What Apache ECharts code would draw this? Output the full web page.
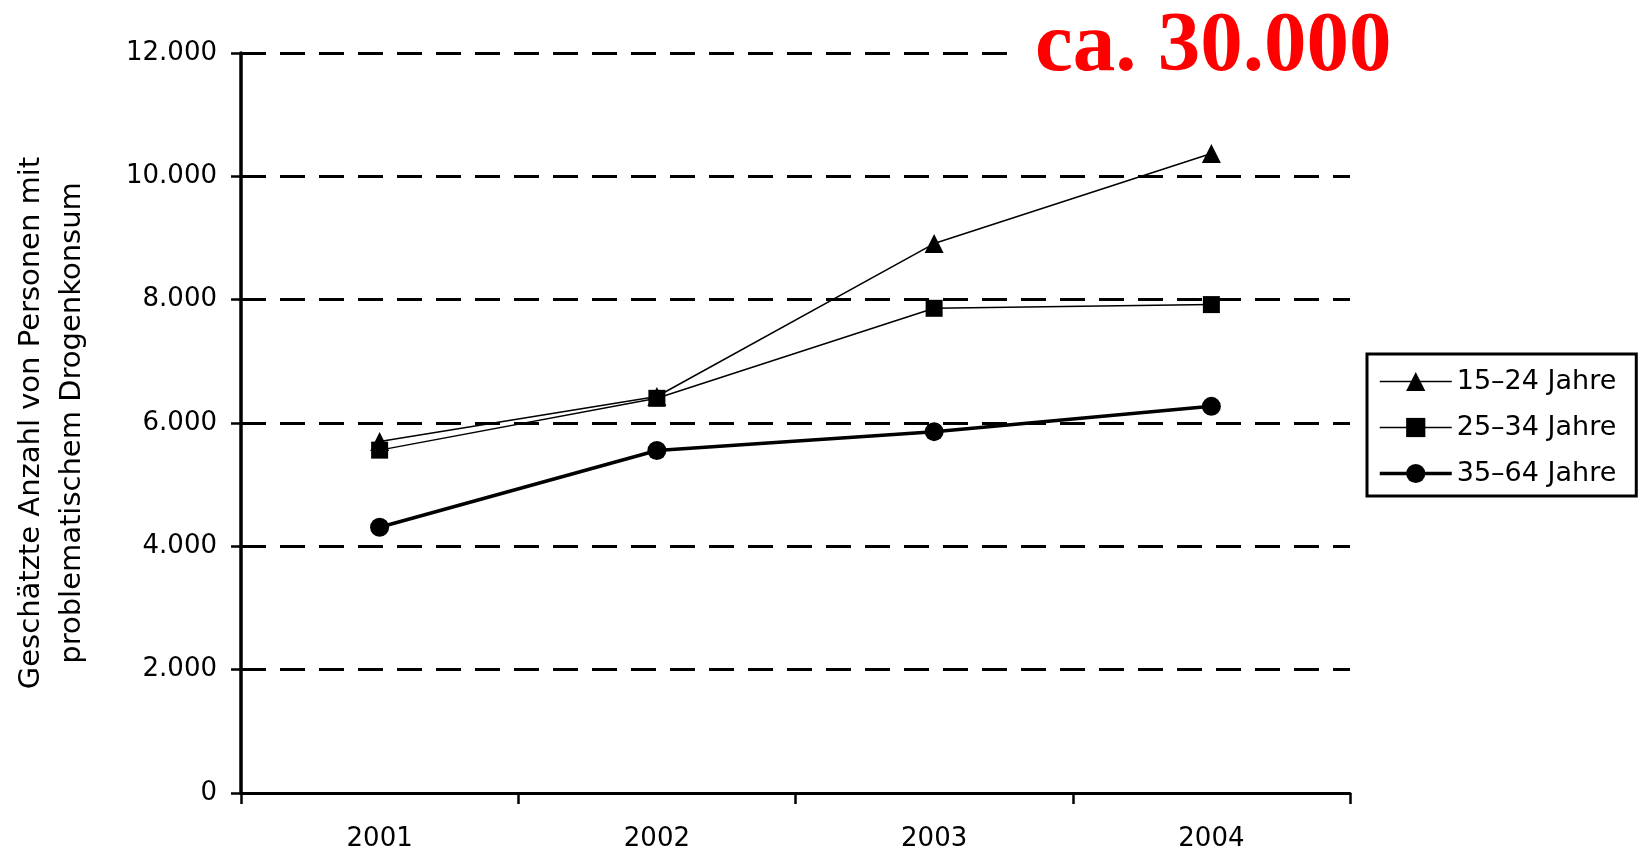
<!DOCTYPE html>
<html>
<head>
<meta charset="utf-8">
<script src="https://cdn.jsdelivr.net/npm/echarts@6/dist/echarts.min.js"></script>
<style>
html,body{margin:0;padding:0;background:#fff;}
#chart{width:1644px;height:852px;}
</style>
</head>
<body>
<div id="chart"></div>
<script>
// ---- data ----
var years = ['2001', '2002', '2003', '2004'];
var seriesNames = ['15–24 Jahre', '25–34 Jahre', '35–64 Jahre'];
var age15to24 = [5700, 6430, 8910, 10370];
var age25to34 = [5560, 6400, 7860, 7920];
var age35to64 = [4310, 5555, 5860, 6270];
var yTicks = [0, 2000, 4000, 6000, 8000, 10000, 12000];
var yTitle = 'Geschätzte Anzahl von Personen mit\nproblematischem Drogenkonsum';
var annotation = 'ca. 30.000';

function fmt(v) {
  if (v < 1000) return String(v);
  var t = Math.floor(v / 1000), r = String(v % 1000);
  while (r.length < 3) r = '0' + r;
  return t + '.' + r;
}

var chart = echarts.init(document.getElementById('chart'), null, {renderer: 'canvas'});
var baseFont = 'DejaVu Sans';
chart.setOption({
  animation: false,
  backgroundColor: '#ffffff',
  grid: {left: 241, right: 294, top: 53, bottom: 49, containLabel: false},
  xAxis: {
    type: 'category',
    data: years,
    boundaryGap: true,
    axisLine: {lineStyle: {color: '#000', width: 3}},
    axisTick: {show: true, length: 11, lineStyle: {color: '#000', width: 2.5}},
    axisLabel: {color: '#000', fontFamily: baseFont, fontSize: 26, margin: 33},
    splitLine: {show: false}
  },
  yAxis: {
    type: 'value',
    min: yTicks[0],
    max: yTicks[yTicks.length - 1],
    interval: yTicks[1] - yTicks[0],
    name: yTitle,
    nameLocation: 'middle',
    nameRotate: 90,
    nameGap: 148,
    nameTextStyle: {color: '#000', fontFamily: baseFont, fontSize: 29, lineHeight: 41, align: 'center'},
    axisLine: {show: true, lineStyle: {color: '#000', width: 3.5}},
    axisTick: {show: true, length: 10, lineStyle: {color: '#000', width: 2.5}},
    axisLabel: {color: '#000', fontFamily: baseFont, fontSize: 26, margin: 24, formatter: fmt},
    splitLine: {show: true, lineStyle: {color: '#000', width: 3, type: [25, 14]}}
  },
  legend: {
    orient: 'vertical',
    left: 1367,
    top: 354,
    padding: [14, 20, 9, 11],
    itemWidth: 72,
    itemHeight: 24,
    itemGap: 19,
    borderColor: '#000',
    borderWidth: 3,
    borderRadius: 0,
    textStyle: {color: '#000', fontFamily: baseFont, fontSize: 27},
    data: [
      {name: seriesNames[0], lineStyle: {width: 1.5, color: '#000'}},
      {name: seriesNames[1], lineStyle: {width: 1.5, color: '#000'}},
      {name: seriesNames[2], lineStyle: {width: 3.5, color: '#000'}}
    ]
  },
  series: [
    {
      name: seriesNames[0], type: 'line', data: age15to24,
      symbol: 'triangle', symbolSize: 19,
      lineStyle: {color: '#000', width: 1.5},
      itemStyle: {color: '#000'}
    },
    {
      name: seriesNames[1], type: 'line', data: age25to34,
      symbol: 'rect', symbolSize: 17,
      lineStyle: {color: '#000', width: 1.5},
      itemStyle: {color: '#000'}
    },
    {
      name: seriesNames[2], type: 'line', data: age35to64,
      symbol: 'circle', symbolSize: 19,
      lineStyle: {color: '#000', width: 3.5},
      itemStyle: {color: '#000'}
    }
  ],
  graphic: [
    {
      type: 'text',
      left: 1010,
      top: 6,
      z: 100,
      style: {
        text: annotation,
        fill: '#ff0000',
        font: 'bold 85px "Liberation Serif", "Times New Roman", serif',
        backgroundColor: '#ffffff',
        padding: [0, 14, 0, 25]
      }
    }
  ]
});
</script>
</body>
</html>
